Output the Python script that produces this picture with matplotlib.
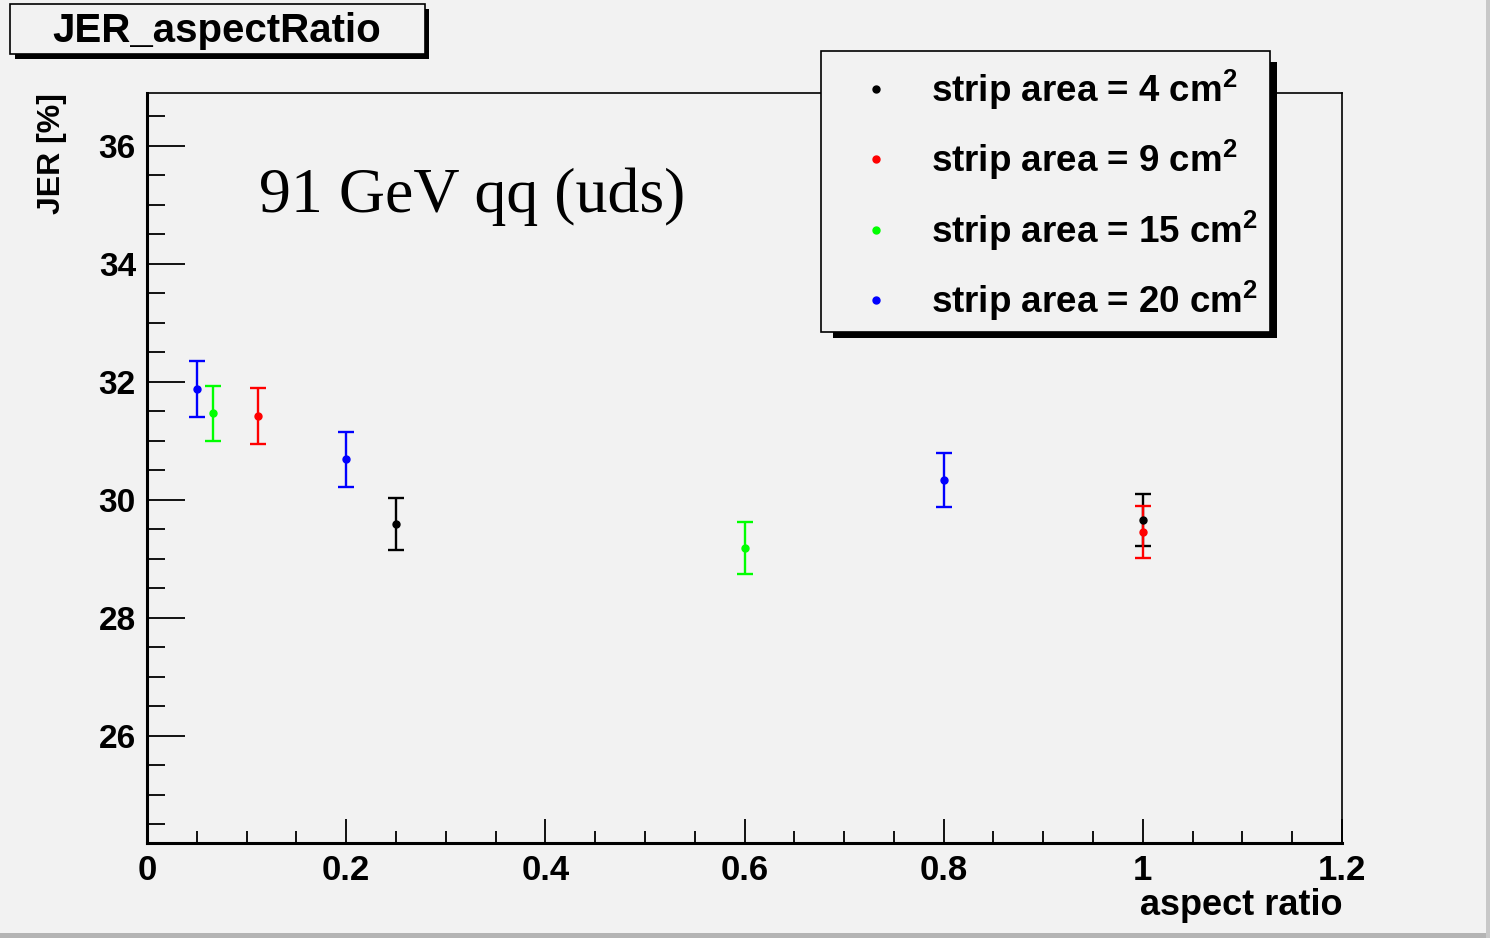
import matplotlib

matplotlib.use("Agg")
import matplotlib.pyplot as plt
from matplotlib.lines import Line2D
from matplotlib.patches import Rectangle
from matplotlib.ticker import FuncFormatter, MultipleLocator


# strip area -> (aspect ratio, JER [%], error)
AREA_LABELS = ["4", "9", "15", "20"]
COLORS = ["#000000", "#ff0000", "#00ff00", "#0000ff"]

X_4 = [0.25, 1.0]
Y_4 = [29.59, 29.66]
E_4 = [0.44, 0.44]

X_9 = [0.111, 1.0]
Y_9 = [31.42, 29.45]
E_9 = [0.47, 0.44]

X_15 = [0.0667, 0.6]
Y_15 = [31.46, 29.18]
E_15 = [0.46, 0.44]

X_20 = [0.05, 0.2, 0.8]
Y_20 = [31.87, 30.68, 30.33]
E_20 = [0.47, 0.46, 0.46]

SERIES = [(X_4, Y_4, E_4), (X_9, Y_9, E_9), (X_15, Y_15, E_15), (X_20, Y_20, E_20)]

BG = "#f2f2f2"
WIDE = ["Liberation Sans", "DejaVu Sans"]

plt.rcParams["mathtext.fontset"] = "custom"
plt.rcParams["mathtext.bf"] = "Liberation Sans:bold"
plt.rcParams["mathtext.rm"] = "Liberation Sans:bold"

W, H = 1490, 938
fig = plt.figure(figsize=(W / 100, H / 100), dpi=100, facecolor=BG)


def px_rect(x0, y0, x1, y1, **kw):
    # rectangle given in pixel coordinates (top-left origin)
    r = Rectangle((x0 / W, 1 - y1 / H), (x1 - x0) / W, (y1 - y0) / H,
                  transform=fig.transFigure, **kw)
    fig.add_artist(r)
    return r


ax = fig.add_axes([147 / W, 1 - 843 / H, (1342 - 147) / W, (843 - 93) / H])
ax.set_facecolor(BG)

for (xs, ys, es), color in zip(SERIES, COLORS):
    ax.errorbar(xs, ys, yerr=es, fmt="o", color=color, ms=5, elinewidth=1.7,
                capsize=5.5, capthick=1.7)

ax.set_xlim(0, 1.2)
ax.set_ylim(24.18, 36.89)
ax.xaxis.set_major_locator(MultipleLocator(0.2))
ax.xaxis.set_minor_locator(MultipleLocator(0.05))
ax.yaxis.set_major_locator(MultipleLocator(2))
ax.yaxis.set_minor_locator(MultipleLocator(0.5))
ax.xaxis.set_major_formatter(FuncFormatter(lambda v, p: "%g" % round(v, 2)))
ax.yaxis.set_major_formatter(FuncFormatter(lambda v, p: "%d" % round(v)))
ax.tick_params(axis="both", which="both", direction="in", color="black", width=1.3)
ax.tick_params(axis="y", which="major", length=27, pad=8)
ax.tick_params(axis="y", which="minor", length=13)
ax.tick_params(axis="x", which="major", length=17, pad=8)
ax.tick_params(axis="x", which="minor", length=9)

for lab in ax.get_xticklabels():
    lab.set_family(WIDE)
    lab.set_fontweight("bold")
    lab.set_fontsize(25)
for lab in ax.get_yticklabels():
    lab.set_family(WIDE)
    lab.set_fontweight("bold")
    lab.set_fontsize(24)

for side in ["left", "bottom"]:
    ax.spines[side].set_linewidth(2.2)
for side in ["top", "right"]:
    ax.spines[side].set_linewidth(1.2)

ax.set_xlabel("aspect ratio", family=WIDE, fontweight="bold", fontsize=26)
ax.xaxis.set_label_coords(1.0, -0.083)
ax.xaxis.label.set_horizontalalignment("right")
ax.xaxis.label.set_verticalalignment("center")
ax.set_ylabel("JER [%]", family=WIDE, fontweight="bold", fontsize=23)
ax.yaxis.set_label_coords(-0.0795, 1.0)
ax.yaxis.label.set_verticalalignment("center")
ax.yaxis.label.set_horizontalalignment("right")

ax.text(0.094, 0.862, "91 GeV qq (uds)", transform=ax.transAxes,
        family=["Liberation Serif", "DejaVu Serif"], fontsize=46, va="center")

# title box with shadow
px_rect(15, 9, 429, 59, facecolor="black", edgecolor="none", zorder=5)
px_rect(10, 4, 425, 54, facecolor=BG, edgecolor="black", linewidth=1.2, zorder=6)
fig.text(217 / W, 1 - 31 / H, "JER_aspectRatio", family=WIDE, fontweight="bold",
         fontsize=29, ha="center", va="center", zorder=7)

# legend box with shadow
px_rect(833, 62, 1277, 338, facecolor="black", edgecolor="none", zorder=5)
px_rect(821, 51, 1270, 332, facecolor=BG, edgecolor="black", linewidth=1.2, zorder=6)
handles = [Line2D([], [], ls="none", marker="o", ms=5, color=c) for c in COLORS]
labels = [r"strip area = %s cm$^\mathbf{2}$" % a for a in AREA_LABELS]
leg = fig.legend(handles, labels, loc="center left",
                 bbox_to_anchor=(858 / W, 1 - 195 / H), frameon=False,
                 prop={"family": WIDE, "weight": "bold", "size": 26.5},
                 labelspacing=0.69, handlelength=1.0, handletextpad=0.97,
                 borderpad=0, borderaxespad=0)
leg.set_zorder(8)

# window frame edges
px_rect(0, 933, W, H, facecolor="#b4b4b4", edgecolor="none", zorder=9)
px_rect(1486, 0, W, H, facecolor="#c8c8c8", edgecolor="none", zorder=9)

fig.savefig("out.png", dpi=100, facecolor=BG)
